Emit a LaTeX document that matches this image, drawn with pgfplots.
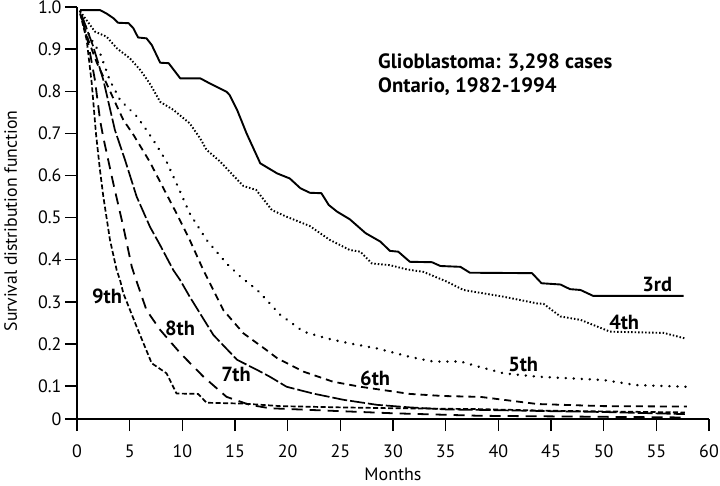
\documentclass[border=0pt]{standalone}
\usepackage{pgfplots}
\pgfplotsset{compat=1.18}
\usepackage{fontspec}
\setmainfont{PT Sans}
\begin{document}
\begin{tikzpicture}
\begin{axis}[
  scale only axis, width=632bp, height=411.8bp,
  at={(0,0)}, anchor=south west,
  xmin=0, xmax=60, ymin=0.0214, ymax=1.0,
  axis x line*=bottom, axis y line*=left,
  xtick={0,5,...,60},
  ytick={0.0214,0.1,0.2,0.3,0.4,0.5,0.6,0.7,0.8,0.9,1.0},
  yticklabels={0,0.1,0.2,0.3,0.4,0.5,0.6,0.7,0.8,0.9,1.0},
  tick align=outside, major tick length=12bp,
  tick style={line width=1.6bp, black},
  axis line style={line width=1.8bp, black},
  /pgf/number format/assume math mode=true,
  ticklabel style={font=\fontsize{18}{21}\selectfont},
  xticklabel style={yshift=-10bp},
  clip=false,
  every axis plot/.append style={black, line width=1.7bp, line join=round},
]
% 3rd
\addplot[solid, line width=1.9bp] coordinates {(0.3,0.993)(2.2,0.993)(2.8,0.985)(3.45,0.974)(3.9,0.963)(4.9,0.962)(5.35,0.950)(5.8,0.928)(6.6,0.926)(7.1,0.910)(7.9,0.868)(8.7,0.867)(9.8,0.831)(11.7,0.831)(12.6,0.819)(14.2,0.799)(14.5,0.791)(15.2,0.756)(16.1,0.700)(17.4,0.629)(19.0,0.605)(20.2,0.593)(21.2,0.570)(22.1,0.559)(23.2,0.558)(23.9,0.530)(24.7,0.514)(25.9,0.496)(27.4,0.463)(28.8,0.443)(29.7,0.421)(30.5,0.419)(31.6,0.395)(33.7,0.394)(34.5,0.385)(36.4,0.383)(37.3,0.369)(43.2,0.368)(44.1,0.344)(45.9,0.341)(46.8,0.330)(47.8,0.328)(49.0,0.314)(57.6,0.314)};
% 4th
\addplot[line width=1.9bp, dash pattern=on 1.5bp off 2bp] coordinates {(0.3,0.99)(1.7,0.942)(2.8,0.930)(3.8,0.902)(5.0,0.879)(6.0,0.851)(6.9,0.819)(7.9,0.775)(9.15,0.756)(10.7,0.724)(11.7,0.688)(12.3,0.661)(13.6,0.633)(14.8,0.601)(15.8,0.575)(17.0,0.566)(18.5,0.518)(19.9,0.502)(22.1,0.480)(24.0,0.447)(25.9,0.423)(26.9,0.419)(28.0,0.391)(29.7,0.387)(31.3,0.377)(32.9,0.371)(35.1,0.348)(36.7,0.328)(38.1,0.322)(40.5,0.312)(43.7,0.296)(44.3,0.295)(45.9,0.265)(47.8,0.257)(50.6,0.229)(55.7,0.226)(57.7,0.213)};
% 5th
\addplot[line width=2.7bp, line cap=round, dash pattern=on 0.01bp off 8bp] coordinates {(0.3,0.99)(1.2,0.930)(2.2,0.890)(3.1,0.827)(4.1,0.779)(5.7,0.740)(6.6,0.708)(7.25,0.684)(8.5,0.633)(9.45,0.581)(10.7,0.510)(12.3,0.447)(14.2,0.391)(15.5,0.360)(17.1,0.328)(18.3,0.296)(19.3,0.269)(21.5,0.229)(23.7,0.213)(25.9,0.201)(28.5,0.189)(31.6,0.169)(33.8,0.158)(36.4,0.158)(38.1,0.146)(40.5,0.130)(43.7,0.122)(50.0,0.114)(53.1,0.102)(57.9,0.098)};
% 6th
\addplot[line width=1.8bp, dash pattern=on 7bp off 5bp] coordinates {(0.3,0.985)(1.07,0.922)(1.9,0.867)(2.8,0.819)(3.8,0.764)(4.4,0.732)(5.4,0.695)(6.9,0.633)(8.2,0.570)(9.45,0.510)(10.7,0.447)(12.0,0.375)(13.9,0.280)(15.8,0.225)(18.0,0.185)(19.0,0.166)(21.5,0.134)(24.3,0.110)(26.9,0.098)(29.4,0.089)(31.6,0.081)(34.8,0.076)(38.3,0.074)(40.5,0.067)(43.7,0.057)(50.0,0.052)(57.9,0.051)};
% 7th
\addplot[dash pattern=on 15bp off 3bp] coordinates {(0.45,0.981)(1.55,0.906)(2.5,0.827)(3.6,0.708)(4.56,0.637)(5.66,0.550)(6.93,0.478)(7.88,0.435)(9.15,0.375)(9.78,0.352)(10.7,0.312)(12.95,0.221)(15.2,0.162)(17.1,0.138)(18.3,0.122)(19.9,0.098)(22.4,0.082)(25.3,0.067)(28.5,0.055)(31.6,0.049)(35.1,0.044)(38.3,0.043)(45,0.040)(50,0.038)(57.7,0.033)};
% 8th
\addplot[line width=1.8bp, dash pattern=on 11bp off 7bp] coordinates {(0.45,0.977)(1.07,0.914)(1.7,0.827)(2.2,0.73)(2.5,0.69)(3.45,0.581)(4.4,0.478)(5.2,0.383)(5.5,0.360)(6.6,0.280)(7.9,0.233)(9.8,0.178)(12.0,0.122)(14.2,0.074)(16.4,0.055)(18.3,0.047)(22.1,0.043)(30,0.035)(38.3,0.029)(57.7,0.025)};
% 9th
\addplot[line width=1.7bp, dash pattern=on 5bp off 2.5bp] coordinates {(0.3,0.985)(0.92,0.922)(1.4,0.819)(1.8,0.70)(2.18,0.613)(2.5,0.550)(3.13,0.447)(3.77,0.375)(4.08,0.352)(4.4,0.320)(5.66,0.241)(7.09,0.154)(8.5,0.130)(9.45,0.082)(11.5,0.081)(12.3,0.060)(15.8,0.058)(19.3,0.052)(25,0.049)(30,0.047)(38,0.045)(45,0.041)(57.7,0.037)};
% labels
\begin{scope}[every node/.style={font=\fontsize{20.5}{24}\selectfont\bfseries, inner sep=0pt}]
\node at (axis cs:55.08,0.340) {3rd};
\node at (axis cs:51.95,0.252) {4th};
\node at (axis cs:42.36,0.152) {5th};
\node at (axis cs:28.30,0.119) {6th};
\node at (axis cs:15.10,0.126) {7th};
\node at (axis cs:9.78,0.238) {8th};
\node at (axis cs:2.85,0.314) {9th};
\end{scope}
\node[anchor=base west, inner sep=0pt, font=\fontsize{20.8}{24}\selectfont\bfseries] at (axis cs:28.58,0.855) {Glioblastoma: 3,298 cases};
\node[anchor=base west, inner sep=0pt, font=\fontsize{20.8}{24}\selectfont\bfseries] at (axis cs:28.58,0.798) {Ontario, 1982-1994};
\node[anchor=base, inner sep=0pt, font=\fontsize{18}{21}\selectfont] at (axis cs:30,-0.125) {Months};
\node[rotate=90, inner sep=0pt, font=\fontsize{17.8}{21}\selectfont] at (axis cs:-6.3,0.492) {Survival distribution function};
\end{axis}
\pgfresetboundingbox
\path (-77bp,-67bp) rectangle (643bp,419bp);
\end{tikzpicture}
\end{document}
